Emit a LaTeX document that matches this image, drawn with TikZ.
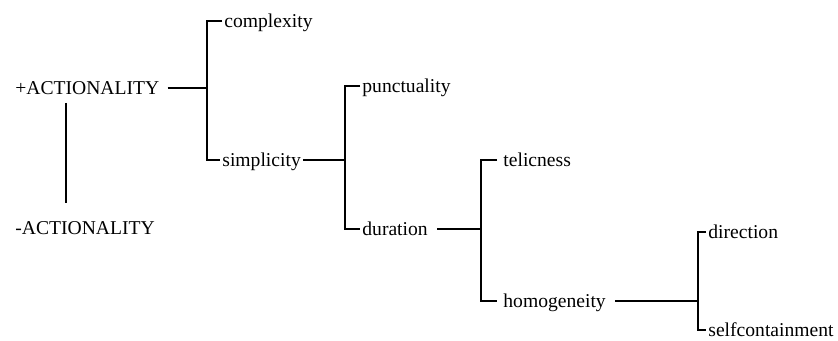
\documentclass[tikz,border=0pt]{standalone}
\usepackage{fontspec}
\setmainfont{Liberation Serif}
\usetikzlibrary{calc}
\tikzset{
  feat/.style={inner sep=0pt, anchor=west, text height=0.66em, text depth=0pt, font=\fontsize{9.8}{11}\selectfont},
  link/.style={line width=0.9pt},
}

\begin{document}
\begin{tikzpicture}[x=0.5pt, y=-0.5pt]
  \useasboundingbox (0,0) rectangle (838,341);

  % Features
  \node[feat] (plus) at (15,88) {+ACTIONALITY};
  \node[feat] (minus) at (15,228) {-ACTIONALITY};
  \node[feat] (cpx) at (224,21) {complexity};
  \node[feat] (smp) at (222,160) {simplicity};
  \node[feat] (pun) at (362,86) {punctuality};
  \node[feat] (dur) at (362,229) {duration};
  \node[feat] (tel) at (503,160) {telicness};
  \node[feat] (hom) at (503,301) {homogeneity};
  \node[feat] (dir) at (708,232) {direction};
  \node[feat] (slf) at (708,330) {selfcontainment};

  % Junctions
  \coordinate (j1) at (207,88);
  \coordinate (j2) at (345,160);
  \coordinate (j3) at (481,229);
  \coordinate (j4) at (698,301);
  \coordinate (va) at (66,103);
  \coordinate (vb) at (66,203);

  % + / - opposition
  \draw[link] (va) -- (vb);

  % Brackets
  \draw[link] ([xshift=4pt]plus.east) -- (plus.east -| j1);
  \draw[link] ([xshift=-1pt]cpx.west) -| (j1) |- ([xshift=-1pt]smp.west);

  \draw[link] ([xshift=1pt]smp.east) -- (smp.east -| j2);
  \draw[link] ([xshift=-1pt]pun.west) -| (j2) |- ([xshift=-1pt]dur.west);

  \draw[link] ([xshift=4.5pt]dur.east) -- (dur.east -| j3);
  \draw[link] ([xshift=-3pt]tel.west) -| (j3) |- ([xshift=-3pt]hom.west);

  \draw[link] ([xshift=4.5pt]hom.east) -- (hom.east -| j4);
  \draw[link] ([xshift=-1pt]dir.west) -| (j4) |- ([xshift=-1pt]slf.west);
\end{tikzpicture}
\end{document}
